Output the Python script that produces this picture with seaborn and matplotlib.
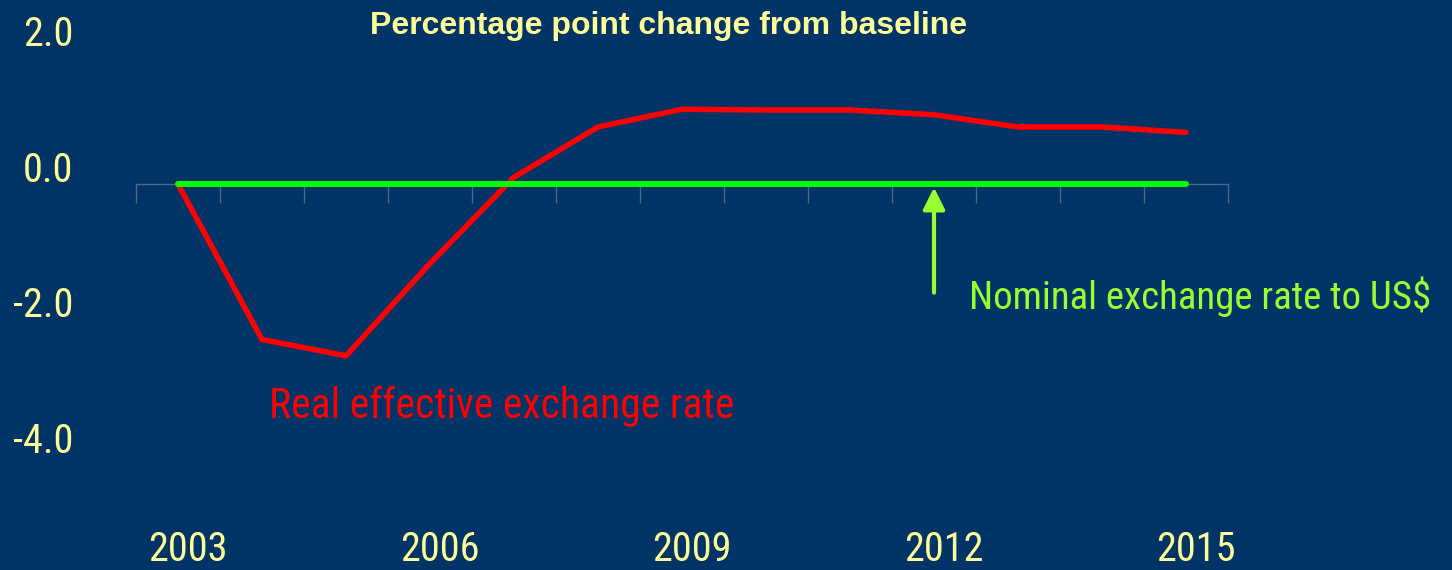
import numpy as np
import pandas as pd
import matplotlib
matplotlib.use("Agg")
import matplotlib.pyplot as plt
import matplotlib.transforms as mtransforms
import matplotlib.font_manager as fm
import seaborn as sns

# Simulated exchange-rate responses, percentage point change from baseline
years = [2003, 2004, 2005, 2006, 2007, 2008, 2009, 2010, 2011, 2012, 2013, 2014, 2015]
real_effective = [0.0, -2.29, -2.53, -1.17, 0.10, 0.84, 1.10, 1.09, 1.09, 1.02, 0.84, 0.84, 0.76]
nominal_usd = [0.0] * 13
y_ticks = [2.0, 0.0, -2.0, -4.0]
x_label_years = [2003, 2006, 2009, 2012, 2015]

BG = "#003366"
PALE = "#FFFF99"
RED = "#FF0000"
GREEN = "#00FF00"
LIME = "#99FF33"
AXIS = "#4A6A88"

sns.set_theme(style="white")
plt.rcParams["font.family"] = ["Liberation Sans", "DejaVu Sans"]


def pick_narrow_font():
    """Return FontProperties for a condensed sans face, if one is installed."""
    entries = fm.fontManager.ttflist
    prefs = ["Liberation Sans Narrow", "Roboto Condensed", "DejaVu Sans Condensed",
             "Open Sans Condensed", "Noto Sans Condensed"]
    for p in prefs:
        for f in entries:
            if f.name == p and f.weight in (400, "normal", "regular") and f.style == "normal":
                return fm.FontProperties(fname=f.fname)
    for f in entries:
        if f.style == "normal" and f.weight in (400, "normal", "regular") and \
                str(f.stretch) in ("condensed", "semi-condensed", "extra-condensed") and \
                "Sans" in f.name:
            return fm.FontProperties(fname=f.fname)
    for f in entries:
        if ("Condensed" in f.fname or "Narrow" in f.fname) and "Bold" not in f.fname \
                and "Italic" not in f.fname and "Oblique" not in f.fname:
            return fm.FontProperties(fname=f.fname)
    return None


narrow = pick_narrow_font()
label_size = 29 if narrow is not None else 24
note_size = 28 if narrow is not None else 23


def nfont(size):
    if narrow is None:
        return fm.FontProperties(family=["Liberation Sans", "DejaVu Sans"], size=size)
    fp = narrow.copy()
    fp.set_size(size)
    return fp


df = pd.DataFrame({"year": years, "real": real_effective, "nominal": nominal_usd})

fig = plt.figure(figsize=(14.52, 5.70), dpi=100, facecolor=BG)
ax = fig.add_axes([136 / 1452, 0.0, (1228 - 136) / 1452, 1.0])
ax.set_facecolor(BG)

sns.lineplot(data=df, x="year", y="real", color=RED, linewidth=4.0, ax=ax, zorder=3)
sns.lineplot(data=df, x="year", y="nominal", color=GREEN, linewidth=4.3, ax=ax, zorder=4)

ax.set_xlim(2002.5, 2015.5)
ax.set_ylim(-5.685, 2.71)
ax.set_xlabel("")
ax.set_ylabel("")

for s in ["top", "right", "left"]:
    ax.spines[s].set_visible(False)
ax.spines["bottom"].set_position(("data", 0))
ax.spines["bottom"].set_color(AXIS)
ax.spines["bottom"].set_linewidth(1.0)
ax.spines["bottom"].set_zorder(1)

# category boundaries as hanging tick marks
ax.set_xticks([y - 0.5 for y in years] + [years[-1] + 0.5], minor=True)
ax.tick_params(axis="x", which="minor", bottom=True, length=14, width=1.0,
               color=AXIS, direction="out")

ax.set_xticks(x_label_years)
ax.set_xticklabels([str(y) for y in x_label_years], fontproperties=nfont(label_size), color=PALE)
ax.tick_params(axis="x", which="major", bottom=True, length=0, pad=249)
xoff = mtransforms.ScaledTranslation(10 / 100, 0, fig.dpi_scale_trans)
for lab in ax.get_xticklabels():
    lab.set_transform(lab.get_transform() + xoff)

ax.set_yticks(y_ticks)
ax.set_yticklabels([f"{v:.1f}" for v in y_ticks], fontproperties=nfont(label_size), color=PALE)
ax.tick_params(axis="y", left=True, length=0, pad=45)
yoff = mtransforms.ScaledTranslation(0, 18 / 100, fig.dpi_scale_trans)
for lab in ax.get_yticklabels():
    lab.set_transform(lab.get_transform() + yoff)

fig.text(669 / 1452, 1 - 26 / 570, "Percentage point change from baseline",
         ha="center", va="center", fontsize=23, fontweight="bold", color=PALE)

ax.annotate("", xy=(2012, -0.05), xytext=(2012, -1.6),
            arrowprops=dict(arrowstyle="-|>,head_length=1.1,head_width=0.55",
                            color=LIME, lw=3, shrinkA=0, shrinkB=0), zorder=5)
ax.text(2012.42, -1.84, "Nominal exchange rate to US$", color=LIME,
        fontproperties=nfont(note_size), ha="left", va="baseline")
ax.text(2004.08, -3.45, "Real effective exchange rate", color=RED,
        fontproperties=nfont(30 if narrow is not None else 24), ha="left", va="baseline")

fig.savefig("out.png", dpi=100, facecolor=BG)
